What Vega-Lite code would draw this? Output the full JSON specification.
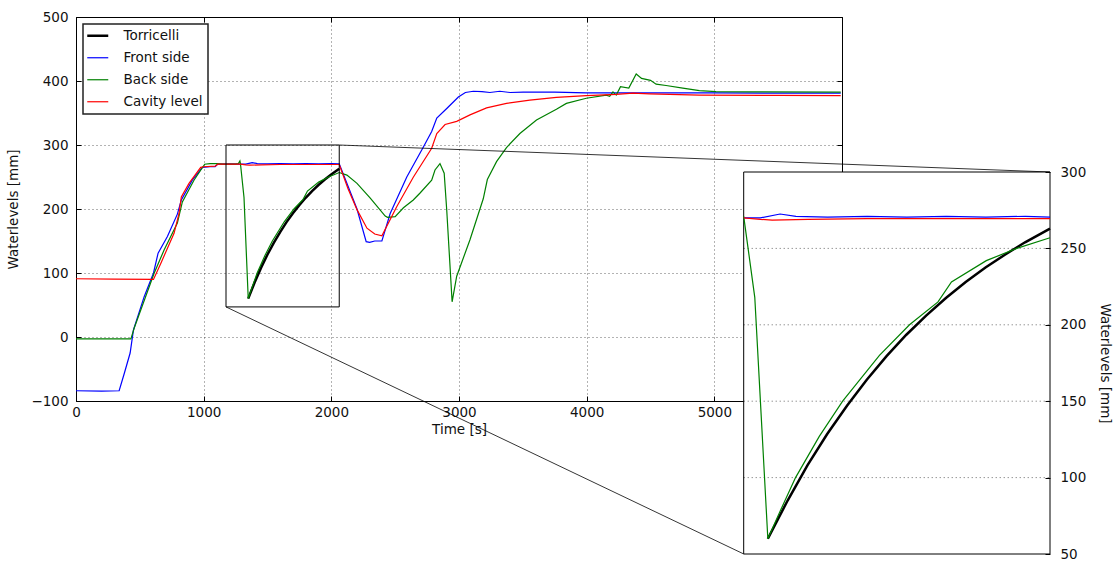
{
  "$schema": "https://vega.github.io/schema/vega-lite/v6.json",
  "width": 766,
  "height": 384,
  "autosize": {"type": "none"},
  "padding": {"left": 76, "top": 17, "right": 277, "bottom": 160},
  "background": "white",
  "config": {
    "font": "DejaVu Sans",
    "view": {"stroke": null},
    "axis": {
      "labelFont": "DejaVu Sans", "labelFontSize": 13.5, "labelColor": "#111",
      "titleFont": "DejaVu Sans", "titleFontSize": 13.5, "titleFontWeight": "normal", "titleColor": "#111",
      "tickColor": "#000", "domainColor": "#000", "domainWidth": 1,
      "gridColor": "#000", "gridOpacity": 0.6, "gridDash": [1, 3],
      "tickSize": -5, "zindex": 0, "labelFlush": false, "labelOverlap": false
    },
    "legend": {
      "labelFont": "DejaVu Sans", "labelFontSize": 13.5, "labelColor": "#111"
    }
  },
  "datasets": {
    "d": [
      {"s": "Torricelli", "t": 1349, "v": 60},
      {"s": "Torricelli", "t": 1399, "v": 85},
      {"s": "Torricelli", "t": 1449, "v": 108},
      {"s": "Torricelli", "t": 1499, "v": 128.5},
      {"s": "Torricelli", "t": 1549, "v": 147},
      {"s": "Torricelli", "t": 1599, "v": 164},
      {"s": "Torricelli", "t": 1649, "v": 179.5},
      {"s": "Torricelli", "t": 1699, "v": 193.5},
      {"s": "Torricelli", "t": 1749, "v": 206},
      {"s": "Torricelli", "t": 1799, "v": 217.5},
      {"s": "Torricelli", "t": 1849, "v": 228},
      {"s": "Torricelli", "t": 1899, "v": 237.5},
      {"s": "Torricelli", "t": 1949, "v": 246},
      {"s": "Torricelli", "t": 1999, "v": 254},
      {"s": "Torricelli", "t": 2062, "v": 263},

      {"s": "Front side", "t": 0, "v": -84},
      {"s": "Front side", "t": 200, "v": -84.5},
      {"s": "Front side", "t": 338, "v": -84},
      {"s": "Front side", "t": 378, "v": -57},
      {"s": "Front side", "t": 424, "v": -25},
      {"s": "Front side", "t": 450, "v": 11},
      {"s": "Front side", "t": 534, "v": 63},
      {"s": "Front side", "t": 607, "v": 100},
      {"s": "Front side", "t": 643, "v": 131},
      {"s": "Front side", "t": 716, "v": 157},
      {"s": "Front side", "t": 794, "v": 192},
      {"s": "Front side", "t": 825, "v": 214},
      {"s": "Front side", "t": 911, "v": 245},
      {"s": "Front side", "t": 990, "v": 265},
      {"s": "Front side", "t": 1050, "v": 266},
      {"s": "Front side", "t": 1090, "v": 266},
      {"s": "Front side", "t": 1110, "v": 270},
      {"s": "Front side", "t": 1200, "v": 270.5},
      {"s": "Front side", "t": 1288, "v": 270},
      {"s": "Front side", "t": 1330, "v": 270},
      {"s": "Front side", "t": 1380, "v": 272.5},
      {"s": "Front side", "t": 1420, "v": 271},
      {"s": "Front side", "t": 1500, "v": 270.5},
      {"s": "Front side", "t": 1600, "v": 271},
      {"s": "Front side", "t": 1700, "v": 270.5},
      {"s": "Front side", "t": 1800, "v": 271},
      {"s": "Front side", "t": 1900, "v": 270.5},
      {"s": "Front side", "t": 2000, "v": 271},
      {"s": "Front side", "t": 2062, "v": 270.5},
      {"s": "Front side", "t": 2201, "v": 200},
      {"s": "Front side", "t": 2273, "v": 149},
      {"s": "Front side", "t": 2300, "v": 148},
      {"s": "Front side", "t": 2340, "v": 150},
      {"s": "Front side", "t": 2396, "v": 150},
      {"s": "Front side", "t": 2461, "v": 193},
      {"s": "Front side", "t": 2591, "v": 250},
      {"s": "Front side", "t": 2721, "v": 297},
      {"s": "Front side", "t": 2786, "v": 321},
      {"s": "Front side", "t": 2826, "v": 342},
      {"s": "Front side", "t": 2904, "v": 357},
      {"s": "Front side", "t": 2995, "v": 375},
      {"s": "Front side", "t": 3050, "v": 382},
      {"s": "Front side", "t": 3112, "v": 384},
      {"s": "Front side", "t": 3180, "v": 383.5},
      {"s": "Front side", "t": 3242, "v": 382},
      {"s": "Front side", "t": 3320, "v": 384},
      {"s": "Front side", "t": 3400, "v": 382},
      {"s": "Front side", "t": 3503, "v": 382.5},
      {"s": "Front side", "t": 3750, "v": 382.5},
      {"s": "Front side", "t": 3997, "v": 381.5},
      {"s": "Front side", "t": 4500, "v": 381.5},
      {"s": "Front side", "t": 5000, "v": 381.5},
      {"s": "Front side", "t": 5500, "v": 381},
      {"s": "Front side", "t": 5990, "v": 381},

      {"s": "Back side", "t": 0, "v": -3},
      {"s": "Back side", "t": 430, "v": -3},
      {"s": "Back side", "t": 456, "v": 14},
      {"s": "Back side", "t": 612, "v": 99.5},
      {"s": "Back side", "t": 690, "v": 136},
      {"s": "Back side", "t": 794, "v": 178},
      {"s": "Back side", "t": 833, "v": 211},
      {"s": "Back side", "t": 924, "v": 245},
      {"s": "Back side", "t": 1008, "v": 270},
      {"s": "Back side", "t": 1050, "v": 271},
      {"s": "Back side", "t": 1107, "v": 271},
      {"s": "Back side", "t": 1150, "v": 270},
      {"s": "Back side", "t": 1250, "v": 270},
      {"s": "Back side", "t": 1272, "v": 271},
      {"s": "Back side", "t": 1284, "v": 275},
      {"s": "Back side", "t": 1288, "v": 271},
      {"s": "Back side", "t": 1316, "v": 218},
      {"s": "Back side", "t": 1349, "v": 60},
      {"s": "Back side", "t": 1380, "v": 78},
      {"s": "Back side", "t": 1419, "v": 100},
      {"s": "Back side", "t": 1479, "v": 127},
      {"s": "Back side", "t": 1538, "v": 150},
      {"s": "Back side", "t": 1631, "v": 180},
      {"s": "Back side", "t": 1707, "v": 200},
      {"s": "Back side", "t": 1779, "v": 215},
      {"s": "Back side", "t": 1813, "v": 228},
      {"s": "Back side", "t": 1901, "v": 242},
      {"s": "Back side", "t": 1978, "v": 250},
      {"s": "Back side", "t": 2062, "v": 257},
      {"s": "Back side", "t": 2122, "v": 253},
      {"s": "Back side", "t": 2201, "v": 240},
      {"s": "Back side", "t": 2305, "v": 217},
      {"s": "Back side", "t": 2422, "v": 189},
      {"s": "Back side", "t": 2440, "v": 187},
      {"s": "Back side", "t": 2500, "v": 188},
      {"s": "Back side", "t": 2565, "v": 202},
      {"s": "Back side", "t": 2642, "v": 214},
      {"s": "Back side", "t": 2695, "v": 225},
      {"s": "Back side", "t": 2786, "v": 245},
      {"s": "Back side", "t": 2812, "v": 261},
      {"s": "Back side", "t": 2851, "v": 271},
      {"s": "Back side", "t": 2884, "v": 256},
      {"s": "Back side", "t": 2904, "v": 198},
      {"s": "Back side", "t": 2946, "v": 55},
      {"s": "Back side", "t": 2982, "v": 95},
      {"s": "Back side", "t": 3086, "v": 152},
      {"s": "Back side", "t": 3190, "v": 216},
      {"s": "Back side", "t": 3222, "v": 246},
      {"s": "Back side", "t": 3294, "v": 274},
      {"s": "Back side", "t": 3372, "v": 296},
      {"s": "Back side", "t": 3477, "v": 318},
      {"s": "Back side", "t": 3607, "v": 339},
      {"s": "Back side", "t": 3763, "v": 356},
      {"s": "Back side", "t": 3841, "v": 365},
      {"s": "Back side", "t": 3997, "v": 373},
      {"s": "Back side", "t": 4154, "v": 378},
      {"s": "Back side", "t": 4180, "v": 376},
      {"s": "Back side", "t": 4206, "v": 383},
      {"s": "Back side", "t": 4232, "v": 378},
      {"s": "Back side", "t": 4265, "v": 391},
      {"s": "Back side", "t": 4330, "v": 389},
      {"s": "Back side", "t": 4388, "v": 411},
      {"s": "Back side", "t": 4430, "v": 404},
      {"s": "Back side", "t": 4500, "v": 401},
      {"s": "Back side", "t": 4544, "v": 395},
      {"s": "Back side", "t": 4622, "v": 393},
      {"s": "Back side", "t": 4753, "v": 389},
      {"s": "Back side", "t": 4883, "v": 385},
      {"s": "Back side", "t": 5013, "v": 383.5},
      {"s": "Back side", "t": 5273, "v": 383},
      {"s": "Back side", "t": 5990, "v": 382.5},

      {"s": "Cavity level", "t": 0, "v": 91},
      {"s": "Cavity level", "t": 300, "v": 90.5},
      {"s": "Cavity level", "t": 607, "v": 90},
      {"s": "Cavity level", "t": 664, "v": 115},
      {"s": "Cavity level", "t": 768, "v": 162},
      {"s": "Cavity level", "t": 807, "v": 193},
      {"s": "Cavity level", "t": 825, "v": 219},
      {"s": "Cavity level", "t": 885, "v": 240},
      {"s": "Cavity level", "t": 977, "v": 265},
      {"s": "Cavity level", "t": 1000, "v": 266},
      {"s": "Cavity level", "t": 1090, "v": 267},
      {"s": "Cavity level", "t": 1110, "v": 270},
      {"s": "Cavity level", "t": 1200, "v": 270},
      {"s": "Cavity level", "t": 1288, "v": 270},
      {"s": "Cavity level", "t": 1330, "v": 269},
      {"s": "Cavity level", "t": 1360, "v": 268.5},
      {"s": "Cavity level", "t": 1450, "v": 269},
      {"s": "Cavity level", "t": 1600, "v": 269.5},
      {"s": "Cavity level", "t": 1800, "v": 269.5},
      {"s": "Cavity level", "t": 2062, "v": 269.5},
      {"s": "Cavity level", "t": 2130, "v": 232},
      {"s": "Cavity level", "t": 2201, "v": 199},
      {"s": "Cavity level", "t": 2279, "v": 170},
      {"s": "Cavity level", "t": 2340, "v": 161},
      {"s": "Cavity level", "t": 2396, "v": 158},
      {"s": "Cavity level", "t": 2513, "v": 204},
      {"s": "Cavity level", "t": 2643, "v": 250},
      {"s": "Cavity level", "t": 2786, "v": 295},
      {"s": "Cavity level", "t": 2826, "v": 318},
      {"s": "Cavity level", "t": 2891, "v": 332},
      {"s": "Cavity level", "t": 2982, "v": 337},
      {"s": "Cavity level", "t": 3086, "v": 347},
      {"s": "Cavity level", "t": 3216, "v": 358},
      {"s": "Cavity level", "t": 3372, "v": 365},
      {"s": "Cavity level", "t": 3555, "v": 370},
      {"s": "Cavity level", "t": 3763, "v": 374.5},
      {"s": "Cavity level", "t": 3997, "v": 377},
      {"s": "Cavity level", "t": 4232, "v": 379},
      {"s": "Cavity level", "t": 4362, "v": 381},
      {"s": "Cavity level", "t": 4492, "v": 380},
      {"s": "Cavity level", "t": 4883, "v": 378},
      {"s": "Cavity level", "t": 5500, "v": 377.5},
      {"s": "Cavity level", "t": 5990, "v": 377}
    ]
  },
  "resolve": {"scale": {"x": "independent", "y": "independent"}},
  "layer": [
    {
      "resolve": {"axis": {"x": "independent", "y": "independent"}},
      "layer": [
        {
          "data": {"name": "d"},
          "transform": [{"filter": "datum.s === 'Torricelli'"}],
          "mark": {"type": "line", "strokeWidth": 2.5},
          "encoding": {
            "x": {"field": "t", "type": "quantitative", "scale": {"domain": [0, 6000], "nice": false, "zero": false},
                  "axis": {"orient": "bottom", "values": [0, 1000, 2000, 3000, 4000, 5000, 6000], "format": "d", "title": "Time [s]", "grid": true, "domain": true, "labelPadding": 9, "titlePadding": 4}},
            "y": {"field": "v", "type": "quantitative", "scale": {"domain": [-100, 500], "nice": false, "zero": false},
                  "axis": {"orient": "left", "values": [-100, 0, 100, 200, 300, 400, 500], "format": "d", "title": "Waterlevels [mm]", "grid": true, "domain": true, "labelPadding": 13, "titlePadding": 10}},
            "color": {"field": "s", "type": "nominal",
                      "scale": {"domain": ["Torricelli", "Front side", "Back side", "Cavity level"], "range": ["#000000", "#0000ff", "#008000", "#ff0000"]},
                      "legend": {"title": null, "orient": "top-left", "offset": 7, "symbolType": "stroke", "symbolSize": 441, "symbolStrokeWidth": 1.2,
                                 "symbolOffset": 3, "labelOffset": 19, "padding": 5, "rowPadding": 7,
                                 "strokeColor": "#222", "fillColor": "white",
                                 "encode": {"symbols": {"update": {"strokeWidth": {"signal": "datum.value === 'Torricelli' ? 2.5 : 1.2"}}},
                                            "legend": {"update": {"strokeWidth": {"value": 1.5}}}}}}
          }
        },
        {
          "data": {"name": "d"},
          "transform": [{"filter": "datum.s === 'Front side'"}],
          "mark": {"type": "line", "strokeWidth": 1.2},
          "encoding": {
            "x": {"field": "t", "type": "quantitative", "scale": {"domain": [0, 6000], "nice": false, "zero": false}, "axis": null},
            "y": {"field": "v", "type": "quantitative", "scale": {"domain": [-100, 500], "nice": false, "zero": false}, "axis": null},
            "color": {"field": "s", "type": "nominal"}
          }
        },
        {
          "data": {"name": "d"},
          "transform": [{"filter": "datum.s === 'Back side'"}],
          "mark": {"type": "line", "strokeWidth": 1.2},
          "encoding": {
            "x": {"field": "t", "type": "quantitative", "scale": {"domain": [0, 6000], "nice": false, "zero": false}, "axis": null},
            "y": {"field": "v", "type": "quantitative", "scale": {"domain": [-100, 500], "nice": false, "zero": false}, "axis": null},
            "color": {"field": "s", "type": "nominal"}
          }
        },
        {
          "data": {"name": "d"},
          "transform": [{"filter": "datum.s === 'Cavity level'"}],
          "mark": {"type": "line", "strokeWidth": 1.2},
          "encoding": {
            "x": {"field": "t", "type": "quantitative", "scale": {"domain": [0, 6000], "nice": false, "zero": false}, "axis": null},
            "y": {"field": "v", "type": "quantitative", "scale": {"domain": [-100, 500], "nice": false, "zero": false}, "axis": null},
            "color": {"field": "s", "type": "nominal"}
          }
        },
        {
          "data": {"values": [{}]},
          "mark": {"type": "rect", "fill": null, "fillOpacity": 0, "stroke": "#000", "strokeWidth": 1},
          "encoding": {
            "x": {"datum": 1175, "type": "quantitative", "scale": {"domain": [0, 6000], "nice": false, "zero": false},
                  "axis": {"orient": "top", "values": [0, 1000, 2000, 3000, 4000, 5000, 6000], "labels": false, "grid": false, "title": null, "domain": true}},
            "x2": {"datum": 2062},
            "y": {"datum": 47, "type": "quantitative", "scale": {"domain": [-100, 500], "nice": false, "zero": false},
                  "axis": {"orient": "right", "values": [-100, 0, 100, 200, 300, 400, 500], "labels": false, "grid": false, "title": null, "domain": true}},
            "y2": {"datum": 300}
          }
        },
        {
          "data": {"values": [{}]},
          "mark": {"type": "rule", "stroke": "#000", "strokeWidth": 0.8},
          "encoding": {
            "x": {"datum": 2062, "type": "quantitative", "scale": {"domain": [0, 6000], "nice": false, "zero": false}, "axis": null},
            "x2": {"datum": 7629},
            "y": {"datum": 300, "type": "quantitative", "scale": {"domain": [-100, 500], "nice": false, "zero": false}, "axis": null},
            "y2": {"datum": 257.8}
          }
        },
        {
          "data": {"values": [{}]},
          "mark": {"type": "rule", "stroke": "#000", "strokeWidth": 0.8},
          "encoding": {
            "x": {"datum": 1175, "type": "quantitative", "scale": {"domain": [0, 6000], "nice": false, "zero": false}, "axis": null},
            "x2": {"datum": 5230},
            "y": {"datum": 47, "type": "quantitative", "scale": {"domain": [-100, 500], "nice": false, "zero": false}, "axis": null},
            "y2": {"datum": -339}
          }
        }
      ]
    },
    {
      "layer": [
        {
          "data": {"values": [{}]},
          "mark": {"type": "rect", "fill": "white", "stroke": "#000", "strokeWidth": 1},
          "encoding": {
            "x": {"datum": 1288, "type": "quantitative", "scale": {"domain": [1288, 2062], "range": [667.7, 974], "nice": false, "zero": false}, "axis": null},
            "x2": {"datum": 2062},
            "y": {"datum": 50, "type": "quantitative", "scale": {"domain": [50, 300], "range": [537, 155], "nice": false, "zero": false},
                  "axis": {"orient": "right", "offset": 208, "values": [50, 100, 150, 200, 250, 300], "format": "d", "title": "Waterlevels [mm]", "grid": false, "domain": false, "labelPadding": 15, "titlePadding": 12, "zindex": 1}},
            "y2": {"datum": 300}
          }
        },
        {
          "data": {"values": [{"g": 100}, {"g": 150}, {"g": 200}, {"g": 250}]},
          "mark": {"type": "rule", "stroke": "#000", "strokeOpacity": 0.6, "strokeDash": [1, 3], "strokeWidth": 1},
          "encoding": {
            "x": {"datum": 1288, "type": "quantitative", "scale": {"domain": [1288, 2062], "range": [667.7, 974], "nice": false, "zero": false}, "axis": null},
            "x2": {"datum": 2062},
            "y": {"field": "g", "type": "quantitative", "scale": {"domain": [50, 300], "range": [537, 155], "nice": false, "zero": false}}
          }
        },
        {
          "data": {"name": "d"},
          "transform": [{"filter": "datum.s === 'Torricelli' && datum.t >= 1288 && datum.t <= 2062"}],
          "mark": {"type": "line", "strokeWidth": 2.5},
          "encoding": {
            "x": {"field": "t", "type": "quantitative", "scale": {"domain": [1288, 2062], "range": [667.7, 974], "nice": false, "zero": false}, "axis": null},
            "y": {"field": "v", "type": "quantitative", "scale": {"domain": [50, 300], "range": [537, 155], "nice": false, "zero": false}},
            "color": {"field": "s", "type": "nominal"}
          }
        },
        {
          "data": {"name": "d"},
          "transform": [{"filter": "datum.s === 'Front side' && datum.t >= 1288 && datum.t <= 2062"}],
          "mark": {"type": "line", "strokeWidth": 1.2},
          "encoding": {
            "x": {"field": "t", "type": "quantitative", "scale": {"domain": [1288, 2062], "range": [667.7, 974], "nice": false, "zero": false}, "axis": null},
            "y": {"field": "v", "type": "quantitative", "scale": {"domain": [50, 300], "range": [537, 155], "nice": false, "zero": false}},
            "color": {"field": "s", "type": "nominal"}
          }
        },
        {
          "data": {"name": "d"},
          "transform": [{"filter": "datum.s === 'Back side' && datum.t >= 1288 && datum.t <= 2062"}],
          "mark": {"type": "line", "strokeWidth": 1.2},
          "encoding": {
            "x": {"field": "t", "type": "quantitative", "scale": {"domain": [1288, 2062], "range": [667.7, 974], "nice": false, "zero": false}, "axis": null},
            "y": {"field": "v", "type": "quantitative", "scale": {"domain": [50, 300], "range": [537, 155], "nice": false, "zero": false}},
            "color": {"field": "s", "type": "nominal"}
          }
        },
        {
          "data": {"name": "d"},
          "transform": [{"filter": "datum.s === 'Cavity level' && datum.t >= 1288 && datum.t <= 2062"}],
          "mark": {"type": "line", "strokeWidth": 1.2},
          "encoding": {
            "x": {"field": "t", "type": "quantitative", "scale": {"domain": [1288, 2062], "range": [667.7, 974], "nice": false, "zero": false}, "axis": null},
            "y": {"field": "v", "type": "quantitative", "scale": {"domain": [50, 300], "range": [537, 155], "nice": false, "zero": false}},
            "color": {"field": "s", "type": "nominal"}
          }
        }
      ]
    }
  ]
}
